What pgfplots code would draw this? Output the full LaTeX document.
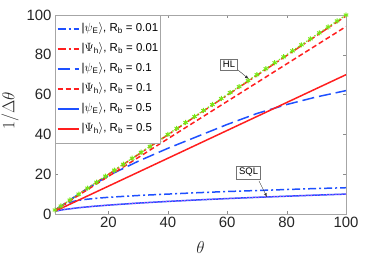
\documentclass[border=0pt]{standalone}
\usepackage{pgfplots}
\pgfplotsset{compat=1.18}
\usepackage{fontspec}
\setmainfont{Liberation Sans}
\definecolor{mblue}{RGB}{30,80,255}
\definecolor{mred}{RGB}{255,30,30}
\definecolor{mgreen}{RGB}{120,230,20}
\definecolor{mmag}{RGB}{190,80,255}
\begin{document}
\begin{tikzpicture}
\begin{axis}[
  scale only axis,
  width=291bp, height=199bp,
  xmin=2, xmax=100, ymin=0, ymax=100,
  xtick={20,40,60,80,100},
  ytick={0,20,40,60,80,100},
  tick align=inside,
  major tick length=3bp,
  axis line style={draw=black!35},
  tick style={draw=black!45},
  /pgf/number format/assume math mode=true,
  ticklabel style={font=\fontsize{15}{17}\selectfont, text=black!85},
  xlabel={$\theta$},
  ylabel={$1/\Delta\theta$},
  label style={font=\fontsize{17}{19}\selectfont, text=black!85, inner sep=0pt},
  ylabel style={at={(axis description cs:0,0.52)}, anchor=center, yshift=45bp},
  xlabel style={at={(axis description cs:0.5,0)}, anchor=center, yshift=-34bp},
  legend cell align=left,
  legend style={at={(axis cs:2,100)}, anchor=north west, draw=black!35,
    font=\fontsize{11.5}{15}\selectfont, row sep=6bp, inner xsep=1.5bp, inner ysep=7bp,
    nodes={inner sep=0pt, text height=9.5bp, text depth=4.5bp},
    column sep=2bp},
  legend image code/.code={\draw[#1, line width=2bp] (0bp,0bp) -- (21bp,0bp);},
]
% psi_E, Rb=0.01
\addplot[color=mblue, line width=1.5pt, dash pattern=on 8bp off 3bp on 2bp off 3bp] coordinates {
(2,1.6) (4,3.8) (6,5.3) (8,6.3) (10,6.9) (12,7.3) (16,7.9) (20,8.4) (30,9.3) (40,10.0) (50,10.7) (60,11.3) (70,11.8) (80,12.3) (90,12.8) (100,13.2)};
\addlegendentry{|$\psi$\textsubscript{E}$\rangle$, R\textsubscript{b} = 0.01}
% Psi_h, Rb=0.01
\addplot[color=mred, line width=1.5pt, dash pattern=on 8bp off 3bp on 2bp off 3bp] coordinates {
(2,1.95) (10,9.95) (20,19.9) (40,39.8) (60,59.7) (80,79.6) (100,99.5)};
\addlegendentry{|$\Psi$\textsubscript{h}$\rangle$, R\textsubscript{b} = 0.01}
% psi_E, Rb=0.1
\addplot[color=mblue, line width=1.5pt, dash pattern=on 12bp off 5bp] coordinates {
(2,2) (10,10) (20,19.3) (30,26.5) (40,33) (50,39) (60,45) (70,50.5) (80,55) (90,58.8) (100,62)};
\addlegendentry{|$\psi$\textsubscript{E}$\rangle$, R\textsubscript{b} = 0.1}
% Psi_h, Rb=0.1
\addplot[color=mred, line width=1.5pt, dash pattern=on 5bp off 3bp] coordinates {
(2,1.9) (20,18.9) (40,37.8) (60,56.6) (80,75.4) (100,94.2)};
\addlegendentry{|$\Psi$\textsubscript{h}$\rangle$, R\textsubscript{b} = 0.1}
% psi_E, Rb=0.5
\addplot[color=mblue, solid, line width=1.5pt] coordinates {
(2,1.41) (5,2.24) (10,3.16) (15,3.87) (20,4.47) (30,5.48) (40,6.32) (50,7.07) (60,7.75) (70,8.37) (80,8.94) (90,9.49) (100,10)};
\addlegendentry{|$\psi$\textsubscript{E}$\rangle$, R\textsubscript{b} = 0.5}
% Psi_h, Rb=0.5
\addplot[color=mred, solid, line width=1.5pt] coordinates {
(2,1.4) (20,14) (40,28) (60,42) (80,56) (100,70)};
\addlegendentry{|$\Psi$\textsubscript{h}$\rangle$, R\textsubscript{b} = 0.5}
% HL
\addplot[forget plot, color=mgreen, line width=1.3pt, dotted, mark=asterisk, mark size=2.6pt, mark options={solid, line width=1pt}] coordinates {
(2,2) (4,4) (7,7) (10,10) (13,13) (16,16) (19,19) (22,22) (25,25) (28,28) (31,31) (34,34) (37,37) (40,40) (43,43) (46,46) (49,49) (52,52) (55,55) (58,58) (61,61) (64,64) (67,67) (70,70) (73,73) (76,76) (79,79) (82,82) (85,85) (88,88) (91,91) (94,94) (97,97) (100,100)};
% SQL
\addplot[forget plot, color=mmag, line width=1.1pt, dotted] coordinates {
(2,1.41) (5,2.24) (10,3.16) (15,3.87) (20,4.47) (30,5.48) (40,6.32) (50,7.07) (60,7.75) (70,8.37) (80,8.94) (90,9.49) (100,10)};
% annotations
\node[draw=black!55, fill=white, inner sep=2.5bp, font=\fontsize{9.5}{11}\selectfont] (hl) at (axis cs:60.6,75.1) {HL};
\draw[-latex, black!80, thin] (axis cs:63.6,72.4) -- (axis cs:67.3,67.8);
\node[draw=black!55, fill=white, inner sep=2.5bp, font=\fontsize{9.5}{11}\selectfont] (sql) at (axis cs:67.2,20.9) {SQL};
\draw[-latex, black!80, thin] (axis cs:70.7,16.6) -- (axis cs:73.4,8.5);
\end{axis}
\pgfresetboundingbox
\path[use as bounding box] ([shift={(-55bp,-44bp)}]current axis.south west) rectangle ([shift={(28bp,15bp)}]current axis.north east);
\end{tikzpicture}
\end{document}
